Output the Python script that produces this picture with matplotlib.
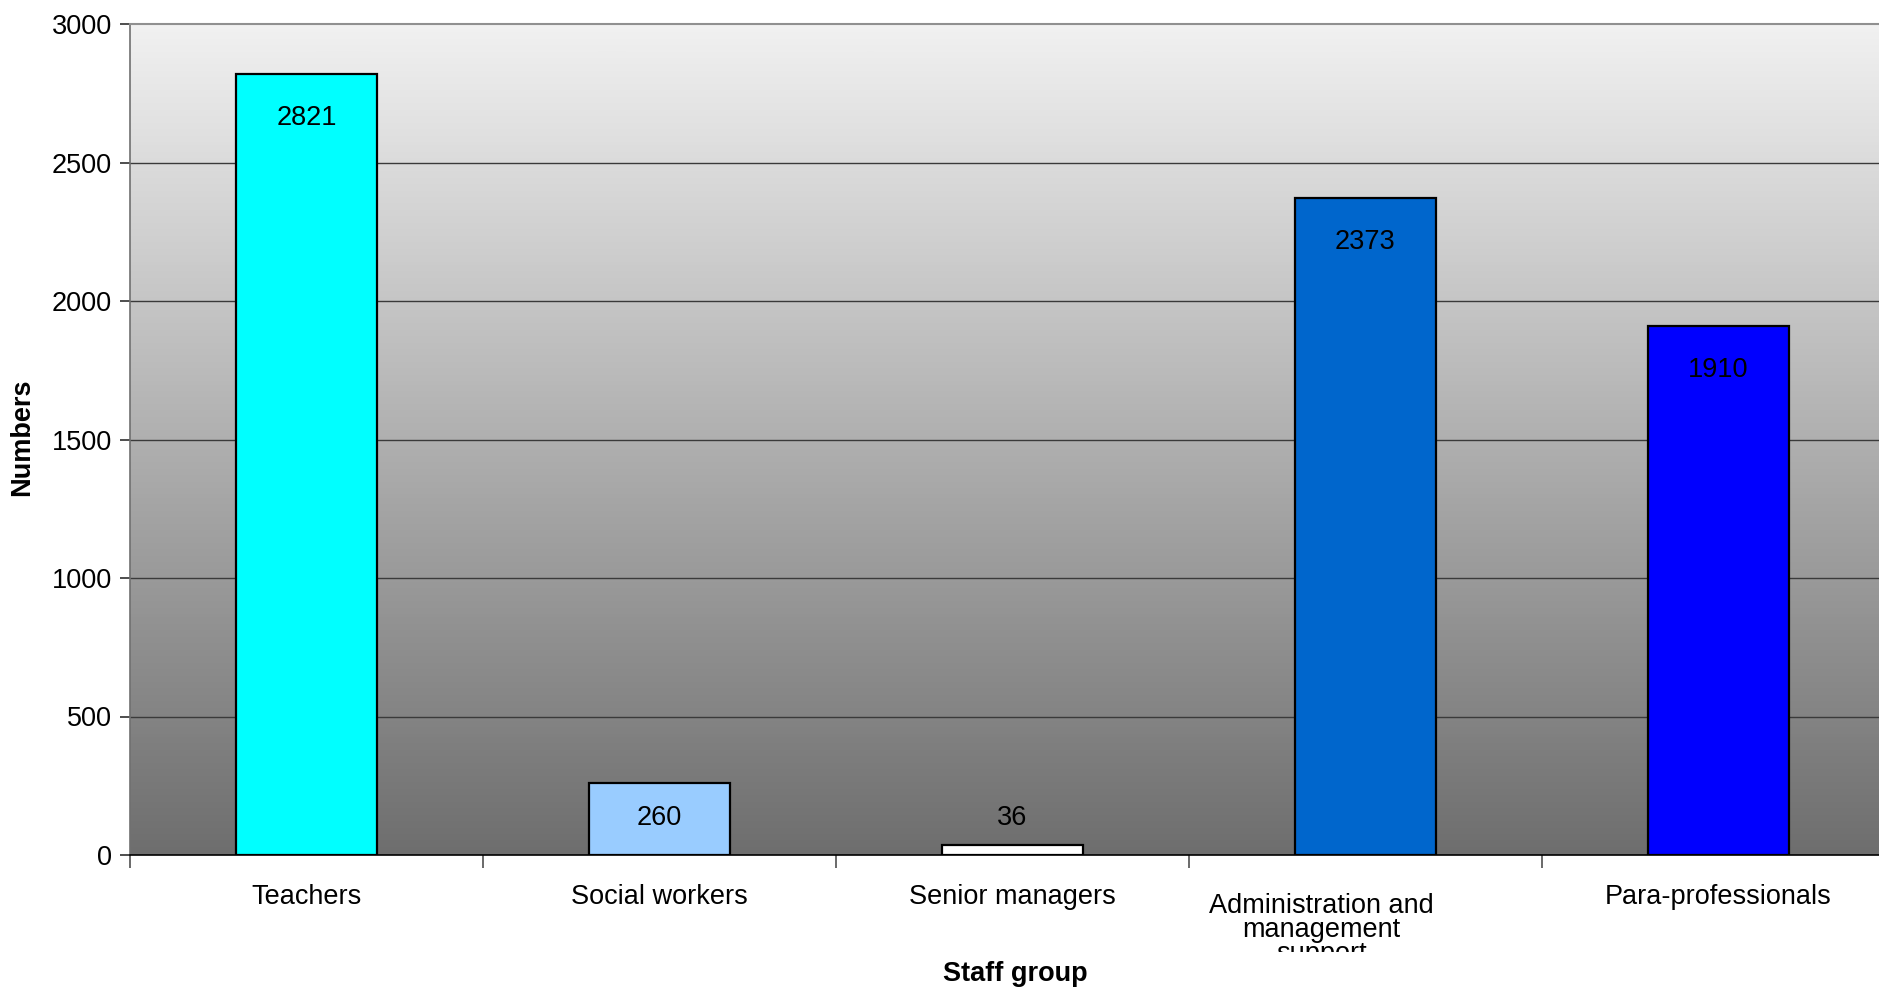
import numpy as np
import matplotlib
matplotlib.use("Agg")
import matplotlib.pyplot as plt
from matplotlib.patches import Rectangle
from matplotlib.transforms import blended_transform_factory
from matplotlib.colors import LinearSegmentedColormap

# Staff numbers by group
categories = ["Teachers", "Social workers", "Senior managers",
              "Administration and\nmanagement\nsupport", "Para-professionals"]
values = [2821, 260, 36, 2373, 1910]
bar_colors = ["#00FFFF", "#99CCFF", "#FFFFFF", "#0066CC", "#0000FF"]
y_ticks = [0, 500, 1000, 1500, 2000, 2500, 3000]

plt.rcParams["font.family"] = ["Liberation Sans", "DejaVu Sans"]
FS = 19.5

W, H, DPI = 1879, 990, 100
fig = plt.figure(figsize=(W / DPI, H / DPI), dpi=DPI)
fig.patch.set_facecolor("white")

left_px, right_px, top_px, bot_px = 130, 1895, 24, 855
ax = fig.add_axes([left_px / W, 1 - bot_px / H,
                   (right_px - left_px) / W, (bot_px - top_px) / H])
ax.set_xlim(-0.5, len(categories) - 0.5)
ax.set_ylim(0, 3000)

# Vertical grey gradient background
grad = np.linspace(0, 1, 256).reshape(-1, 1)
cmap = LinearSegmentedColormap.from_list("bg", ["#6e6e6e", "#f1f1f1"])
ax.imshow(grad, extent=[0, 1, 0, 1], transform=ax.transAxes, origin="lower",
          aspect="auto", cmap=cmap, zorder=0, interpolation="bilinear")

# Horizontal gridlines
for yv in y_ticks[1:-1]:
    ax.axhline(yv, color="#3a3a3a", lw=1.0, zorder=1)

x = np.arange(len(categories))
ax.bar(x, values, width=0.4, color=bar_colors, edgecolor="black",
       linewidth=1.6, zorder=3)

# Value labels inside the bar tops
for xi, v in zip(x, values):
    ly = max(v - 160, 135)
    ax.text(xi, ly, str(v), ha="center", va="center", fontsize=FS,
            color="black", zorder=4)

# Axes styling
ax.spines["top"].set_color("#909090")
ax.spines["top"].set_linewidth(1.5)
ax.spines["right"].set_visible(False)
ax.spines["left"].set_color("#707070")
ax.spines["left"].set_linewidth(1.2)
ax.spines["bottom"].set_color("black")
ax.spines["bottom"].set_linewidth(1.2)

ax.set_yticks(y_ticks)
ax.set_yticklabels([str(t) for t in y_ticks], fontsize=FS)
ax.tick_params(axis="y", direction="out", length=7, width=1.2, pad=6,
               color="#303030")

ax.set_xticks(np.arange(-0.5, len(categories), 1.0))
ax.set_xticklabels([])
ax.tick_params(axis="x", direction="out", length=9, width=1.2, color="#505050")

# Category labels beneath the axis
trans = blended_transform_factory(ax.transData, fig.transFigure)
for xi, lab in zip(x, categories):
    lines = lab.split("\n")
    if len(lines) > 1:
        for k, line in enumerate(lines):
            fig.text(xi - 0.125, 1 - (913 + 24 * k) / H, line,
                     transform=trans, ha="center", va="baseline",
                     fontsize=FS, zorder=1)
        # the wrapped label box is cut off just below its second line
        fig.patches.append(Rectangle((1180 / W, 0), 300 / W, 38 / H,
                                     transform=fig.transFigure,
                                     facecolor="white", edgecolor="none",
                                     zorder=5))
    else:
        fig.text(xi, 1 - 904 / H, lab, transform=trans, ha="center",
                 va="baseline", fontsize=FS)

fig.text(1015 / W, 1 - 981 / H, "Staff group",
         ha="center", va="baseline", fontsize=FS, fontweight="bold")
fig.text(22 / W, 1 - 437 / H, "Numbers", rotation=90, ha="center",
         va="center", fontsize=FS, fontweight="bold")

fig.savefig("out.png", dpi=DPI)
